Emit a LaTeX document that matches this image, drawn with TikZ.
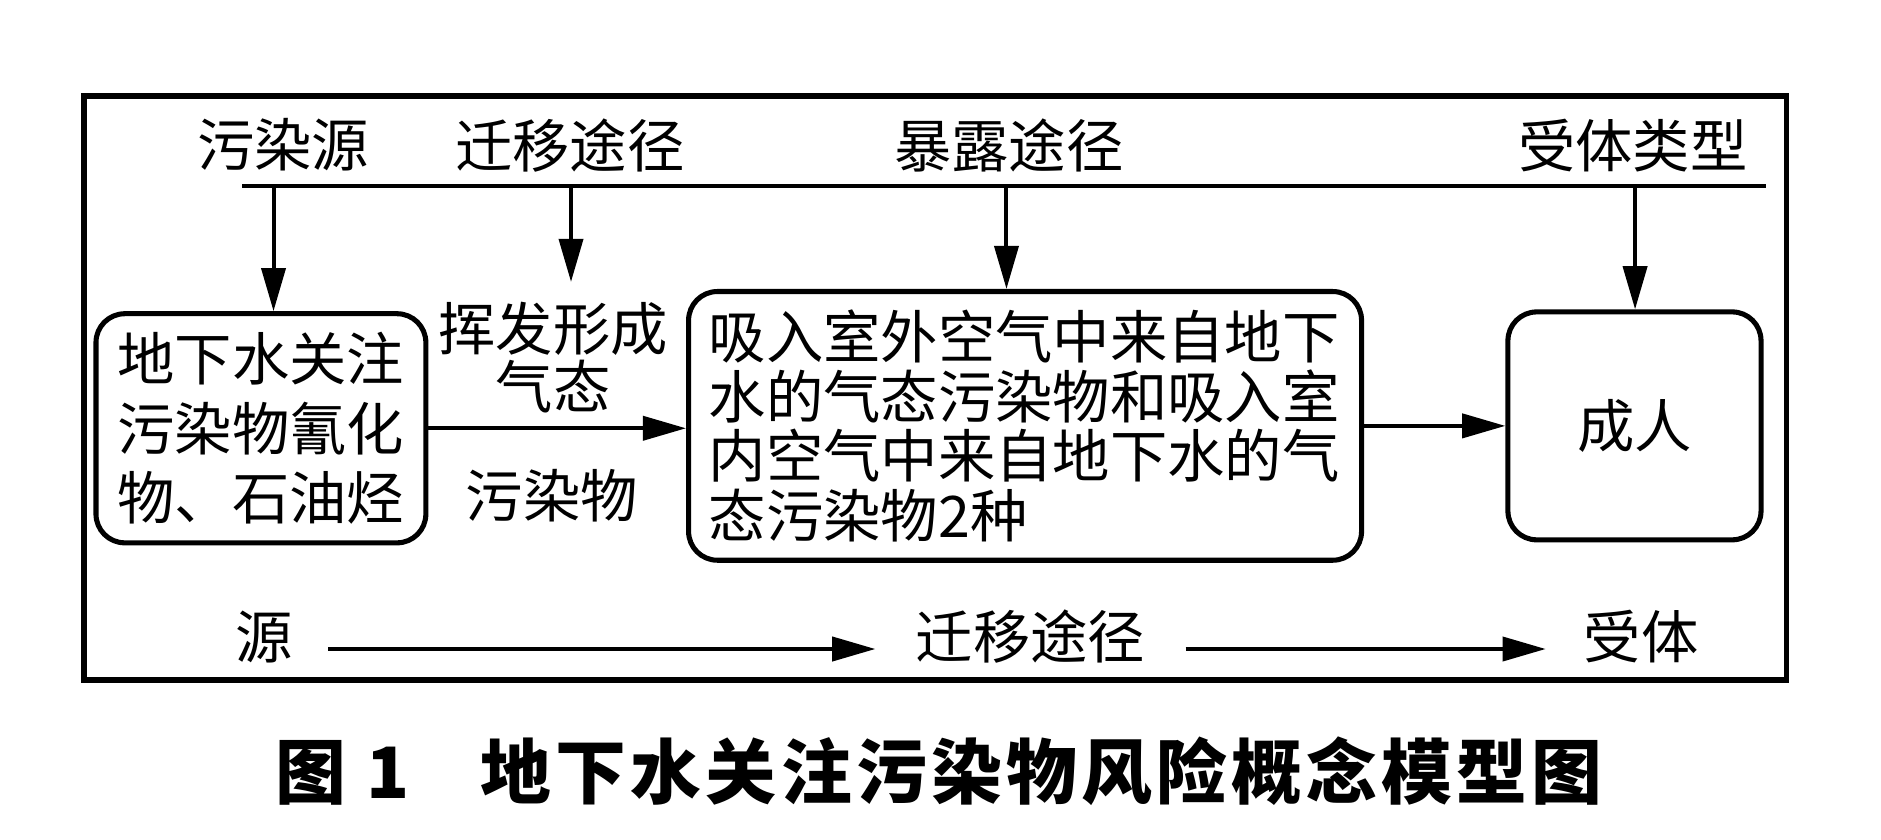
\documentclass[tikz,border=0pt]{standalone}
\usepackage{fontspec}
\setmainfont{Noto Sans CJK SC}
\usetikzlibrary{arrows.meta}
\begin{document}
\begin{tikzpicture}[x=0.1mm,y=-0.1mm,line width=0.95pt,
    arr/.style={-{Triangle[length=3.6mm,width=2mm]}},
    box/.style={draw,rounded corners=2.4mm,line width=1.2pt,inner sep=0pt},
    lbl/.style={inner sep=0pt,font=\fontsize{13.6}{14.2}\selectfont}]
      \useasboundingbox (0,0) rectangle (1568,700);
      \draw[line width=1.3pt] (70,80) rectangle (1489,567);
      \node[lbl] (src) at (236,121){污染源};
      \node[lbl] (mig) at (475,121){迁移途径};
      \node[lbl] (exp) at (841,121){暴露途径};
      \node[lbl] (rec) at (1361,121){受体类型};
      \coordinate (barL) at (202,155);
      \coordinate (barR) at (1472,155);
      \draw (barL) to (barR);
      \coordinate (t1) at (228,155);
      \coordinate (t2) at (476,155);
      \coordinate (t3) at (839,155);
      \coordinate (t4) at (1363,155);
      \node[box,lbl,minimum width=27.5mm,minimum height=19.1mm,align=center,
        font=\fontsize{13.6}{16.4}\selectfont] (gw) at (217.5,357){地下水关注\\污染物氰化\\物、石油烃};
      \node[box,lbl,minimum width=56.1mm,minimum height=22.4mm,text width=150pt,align=left] (inh) at (854.5,355){吸入室外空气中来自地下\\水的气态污染物和吸入室\\内空气中来自地下水的气\\态污染物2种};
      \node[box,lbl,minimum width=21.1mm,minimum height=19mm] (adult) at (1362.5,355){成人};
      \node[lbl,align=center,inner sep=1.5mm,font=\fontsize{13.6}{13.8}\selectfont] (gas) at (461,298){挥发形成\\气态};
      \node[lbl] (pol) at (460,413){污染物};
      \draw[arr] (t1) to (t1 |- gw.north);
      \draw[arr] (t2) to (t2 |- gas.north);
      \draw[arr] (t3) to (t3 |- inh.north);
      \draw[arr] (t4) to (t4 |- adult.north);
      \draw[arr] (gw.east) to (gw.east -| inh.west);
      \draw[arr] (inh.east) to (inh.east -| adult.west);
      \node[lbl,inner sep=2.8mm] (s) at (220,531){源};
      \node[lbl,inner sep=3.2mm] (path) at (859,531){迁移途径};
      \node[lbl,inner sep=3mm] (r) at (1368,531){受体};
      \draw[arr] ([yshift=-1mm]s.east) to ([yshift=-1mm]path.west);
      \draw[arr] ([yshift=-1mm]path.east) to ([yshift=-1mm]r.west);
      \node[anchor=west,inner sep=0pt,font=\bfseries\fontsize{16.8}{18}\selectfont\addfontfeatures{LetterSpace=6}] (cap) at (228,643){图 1\quad 地下水关注污染物风险概念模型图};
    \end{tikzpicture}
\end{document}
